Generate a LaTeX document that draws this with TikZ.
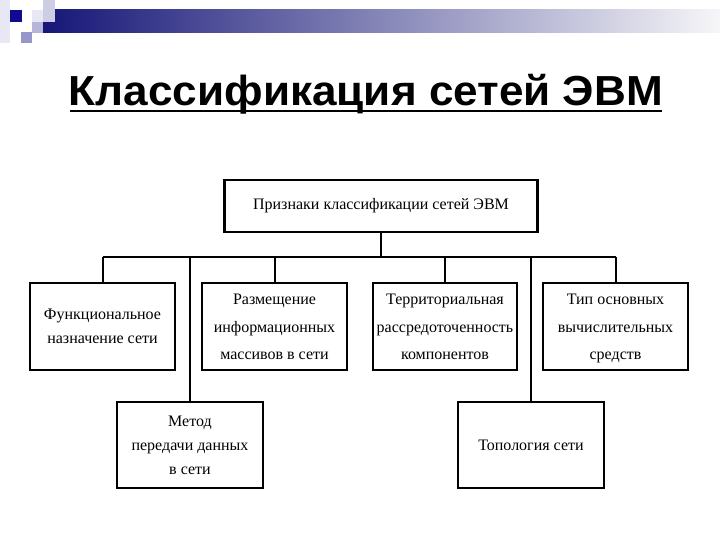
\documentclass[tikz,border=0pt]{standalone}
\usepackage{fontspec}
\setmainfont{Liberation Serif}
\newfontfamily\titlefont{Liberation Sans}
\definecolor{navybar}{RGB}{22,22,120}
\definecolor{midbar}{RGB}{160,160,188}
\definecolor{endbar}{RGB}{246,246,248}
\definecolor{darksq}{RGB}{12,12,140}
\definecolor{palesq}{RGB}{205,205,228}
\definecolor{medsq}{RGB}{150,150,200}
\definecolor{faintsq}{RGB}{232,232,244}
\newcommand{\lowtext}[1]{\raisebox{-4pt}{\parbox{140pt}{\centering\strut #1\strut}}}
\begin{document}
\begin{tikzpicture}[x=1pt,y=-1pt,
  box/.style={draw,line width=2.6pt,rectangle,align=center,inner sep=2pt,
    font=\fontsize{16}{24}\selectfont},
  wide/.style={font=\fontsize{16}{27.5}\selectfont},
  link/.style={line width=2pt}]
\useasboundingbox (0,0) rectangle (720,540);
% header decoration
\fill[faintsq] (0,0) rectangle (10,43);
\shade[left color=navybar,middle color=midbar,right color=endbar] (43,10) rectangle (720,33);
\fill[darksq] (10,10) rectangle (22,22);
\fill[palesq] (43,0) rectangle (55,22);
\fill[faintsq] (32,10) rectangle (43,22);
\fill[medsq!70] (32,22) rectangle (43,33);
\fill[medsq] (21,32) rectangle (32,43);
% title
\node[font=\titlefont\bfseries\fontsize{42}{42}\selectfont,inner sep=0pt,anchor=base,xscale=1.05] (title) at (366,106) {Классификация сетей ЭВМ};
\draw[line width=2.5pt] (70,111) coordinate (ul) -- (662,111) coordinate (ur);
% boxes
\node[box,minimum width=313pt,minimum height=52pt] (top) at (381,206) {Признаки классификации сетей ЭВМ};
\node[box,minimum width=145pt,minimum height=87pt] (f) at (102.5,326.5) {Функциональное\\назначение сети};
\node[box,wide,minimum width=145pt,minimum height=87pt] (r) at (274.5,326.5) {\lowtext{Размещение\\информационных\\массивов в сети}};
\node[box,wide,minimum width=144pt,minimum height=87pt] (t) at (445,326.5) {\lowtext{Территориальная\\рассредоточенность\\компонентов}};
\node[box,wide,minimum width=145pt,minimum height=87pt] (tp) at (615.5,326.5) {\lowtext{Тип основных\\вычислительных\\средств}};
\node[box,minimum width=146pt,minimum height=86pt] (m) at (190,445) {Метод\\передачи данных\\в сети};
\node[box,minimum width=146pt,minimum height=86pt] (tg) at (531,445) {Топология сети};
% connectors
\coordinate (bl) at (102.5,257);
\coordinate (br) at (615.5,257);
\draw[link] (top.south) -- (top.south |- bl);
\draw[link] (bl) -- (br);
\draw[link] (f.north |- bl) -- (f.north);
\draw[link] (r.north |- bl) -- (r.north);
\draw[link] (t.north |- bl) -- (t.north);
\draw[link] (tp.north |- bl) -- (tp.north);
\draw[link] (m.north |- bl) -- (m.north);
\draw[link] (tg.north |- bl) -- (tg.north);
\end{tikzpicture}
\end{document}
